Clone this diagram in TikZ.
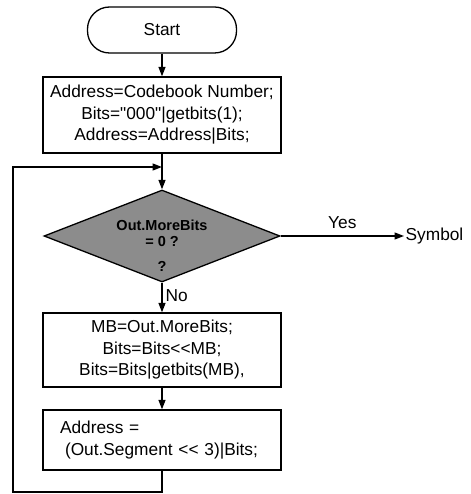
\documentclass[tikz,border=0pt]{standalone}
\usepackage{fontspec}
\newfontfamily\lsans{Liberation Sans}
\usetikzlibrary{arrows.meta,shapes.geometric}
\begin{document}
\begin{tikzpicture}[x=1pt,y=-1pt,
  line width=1.3pt,
  every node/.style={font=\lsans\fontsize{17.3}{21.5}\selectfont},
  box/.style={draw, rectangle, minimum width=238pt, inner sep=0pt, align=center},
  term/.style={draw, rectangle, rounded corners=22pt, minimum width=149pt, minimum height=46pt, inner sep=0pt},
  decide/.style={draw, diamond, fill=black!45, minimum width=236pt, minimum height=92pt, inner sep=0pt},
  dtxt/.style={inner sep=0pt, align=center, font=\lsans\bfseries\fontsize{14.5}{16}\selectfont},
  arr/.style={-{Triangle[length=9.5pt,width=7pt]}},
  lbl/.style={inner sep=1pt}
]
\useasboundingbox (0,0) rectangle (470,494);
\node[term] (start) at (162,30) {Start};
\node[box, minimum height=76pt] (b1) at (162,115) {Address=Codebook Number;\\Bits="000"|getbits(1);\\Address=Address|Bits;};
\coordinate (m) at (162,167);
\node[decide] (d) at (162,236) {};
\node[dtxt] (dt) at (162,246) {Out.MoreBits\\= 0 ?\\[9pt]?};
\node[box, minimum height=74pt] (b2) at (162,350) {MB=Out.MoreBits;\\Bits=Bits<<MB;\\Bits=Bits|getbits(MB),};
\node[box, minimum height=60pt, text width=204pt, align=left] (b3) at (162,440) {Address =\\\hspace{5pt}(Out.Segment << 3)|Bits;};
\node[lbl, anchor=west] (sym) at (404,236) {Symbol};
\coordinate (c1) at (162,492);
\coordinate (c2) at (13,492);
\coordinate (c3) at (13,167);
\draw[arr] (start) -- (b1);
\draw[arr] (b1) -- (d);
\draw[arr] (d.east) -- node[lbl, above=6pt] (yes) {Yes} (sym.west);
\draw[arr] (d) -- node[lbl, right=2pt, pos=0.45] (no) {No} (b2);
\draw[arr] (b2) -- (b3);
\draw[arr] (b3.south) -- (c1) -- (c2) -- (c3) -- (m);
\end{tikzpicture}
\end{document}
